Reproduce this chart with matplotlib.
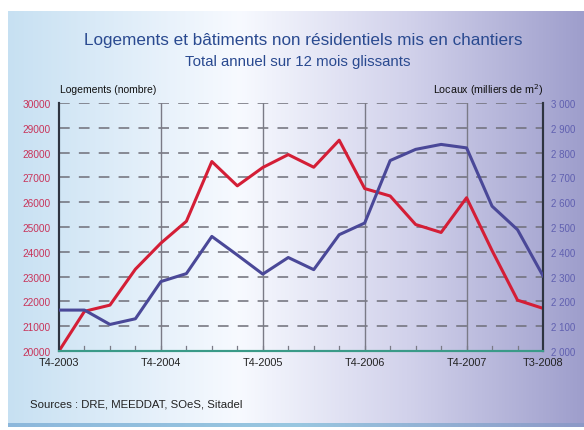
import numpy as np
import matplotlib
matplotlib.use("Agg")
import matplotlib.pyplot as plt
from matplotlib.colors import LinearSegmentedColormap

plt.rcParams['font.family'] = ['Liberation Sans', 'DejaVu Sans']

quarters = ["T4-2003", "T1-2004", "T2-2004", "T3-2004", "T4-2004", "T1-2005", "T2-2005",
            "T3-2005", "T4-2005", "T1-2006", "T2-2006", "T3-2006", "T4-2006", "T1-2007",
            "T2-2007", "T3-2007", "T4-2007", "T1-2008", "T2-2008", "T3-2008"]
logements = [20000, 21600, 21850, 23300, 24350, 25230, 27640, 26660, 27400, 27920,
             27410, 28500, 26550, 26250, 25100, 24780, 26180, 24050, 22050, 21720]
locaux = [2165, 2165, 2107, 2130, 2280, 2312, 2462, 2387, 2310, 2377,
          2328, 2469, 2516, 2768, 2813, 2833, 2819, 2584, 2489, 2303]
xlabels = ["T4-2003", "T4-2004", "T4-2005", "T4-2006", "T4-2007", "T3-2008"]
left_ticks = list(range(20000, 30001, 1000))
right_ticks = list(range(2000, 3001, 100))

W, H = 584, 431
fig = plt.figure(figsize=(W / 100, H / 100), dpi=100)
fig.patch.set_facecolor('white')

# background gradient panel
bg = fig.add_axes([8 / W, 1 - 424 / H, 1 - 8 / W, (424 - 12) / H])
bg.set_axis_off()
cmap = LinearSegmentedColormap.from_list('bg', [
    (0.0, (0.78, 0.88, 0.95)),
    (0.40, (0.97, 0.98, 1.0)),
    (0.70, (0.82, 0.82, 0.92)),
    (1.0, (0.62, 0.62, 0.80))])
grad = np.linspace(0, 1, 256).reshape(1, -1)
bg.imshow(grad, aspect='auto', cmap=cmap, extent=[0, 1, 0, 1])
bg.set_xlim(0, 1)
bg.set_ylim(0, 1)
# bottom band
band = fig.add_axes([8 / W, 1 - 428 / H, 1 - 8 / W, 4 / H])
band.set_axis_off()
band.imshow(grad, aspect='auto', cmap=LinearSegmentedColormap.from_list(
    'b', [(0.55, 0.72, 0.86), (0.60, 0.78, 0.88), (0.55, 0.60, 0.78)]), extent=[0, 1, 0, 1])

ax = fig.add_axes([59 / W, 1 - 352 / H, (543 - 59) / W, (352 - 104) / H])
ax.patch.set_alpha(0)
x = np.arange(len(quarters))
ax.set_xlim(0, len(quarters) - 1)
ax.set_ylim(20000, 30000)

for v in left_ticks[1:]:
    ax.axhline(v, color='#6e6e78', lw=1.1, dashes=(7, 6), zorder=1)
for i in [4, 8, 12, 16]:
    ax.axvline(i, color='#7a7a86', lw=1.0, zorder=1)
for i in x[1:-1]:
    ax.plot([i, i], [20000, 20200], color='#7a7a86', lw=0.9, zorder=1)

ax.plot(x, logements, color='#d41e36', lw=2.2, zorder=3)

ax2 = ax.twinx()
ax2.set_ylim(2000, 3000)
ax2.plot(x, locaux, color='#4a4898', lw=2.2, zorder=3)

for a in (ax, ax2):
    a.spines['top'].set_visible(False)
    a.spines['left'].set_color('#2e3440')
    a.spines['right'].set_color('#2e3440')
    a.spines['left'].set_linewidth(1.5)
    a.spines['right'].set_linewidth(1.5)
    a.spines['bottom'].set_color('#3a9a88')
    a.spines['bottom'].set_linewidth(1.5)

ax.set_yticks(left_ticks)
ax.set_yticklabels([str(v) for v in left_ticks], color='#c8345a', fontsize=7.3)
ax.tick_params(axis='y', length=0, pad=6)
ax2.set_yticks(right_ticks)
ax2.set_yticklabels([f"{v // 1000} {v % 1000:03d}" for v in right_ticks],
                    color='#6060b0', fontsize=7)
ax2.tick_params(axis='y', length=0, pad=6)

ax.set_xticks([quarters.index(q) for q in xlabels])
ax.set_xticklabels(xlabels, fontsize=7.8, color='#222222')
ax.tick_params(axis='x', length=0, pad=4.5)

fig.text(303 / W, 1 - 41 / H, "Logements et bâtiments non résidentiels mis en chantiers",
         ha='center', va='center', fontsize=12.3, color='#2a4a90')
fig.text(298 / W, 1 - 62 / H, "Total annuel sur 12 mois glissants",
         ha='center', va='center', fontsize=10.8, color='#2a4a90')
fig.text(60 / W, 1 - 90 / H, "Logements (nombre)", ha='left', va='center',
         fontsize=7.5, color='#111111')
fig.text(543 / W, 1 - 90 / H, "Locaux (milliers de m$^2$)", ha='right', va='center',
         fontsize=7.7, color='#111111')
fig.text(30 / W, 1 - 405 / H, "Sources : DRE, MEEDDAT, SOeS, Sitadel", ha='left',
         va='center', fontsize=8.2, color='#222222')

fig.savefig('out.png', dpi=100, facecolor=fig.get_facecolor())
